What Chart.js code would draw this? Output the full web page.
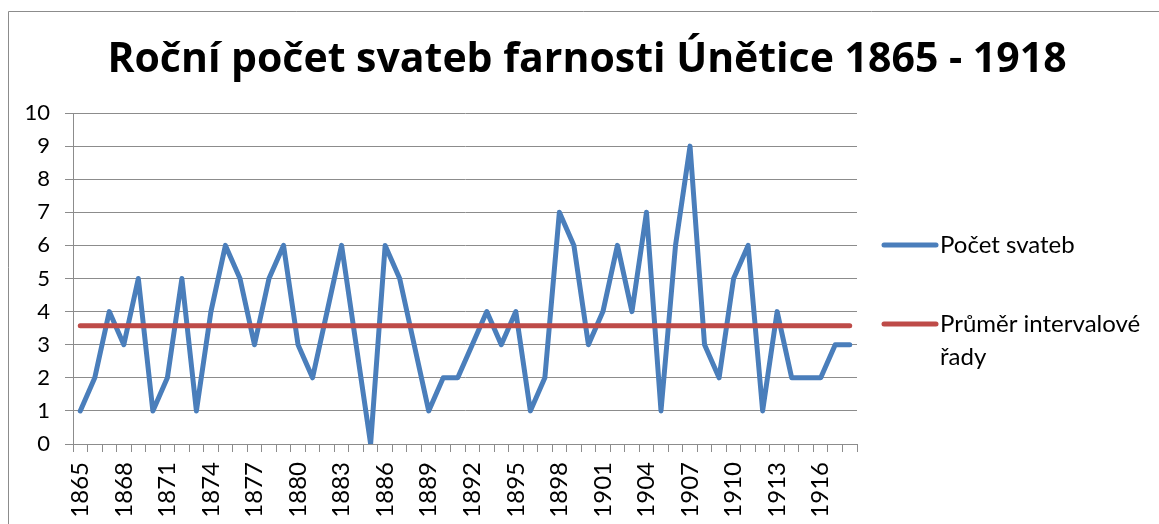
<!DOCTYPE html>
<html>
<head>
<meta charset="utf-8">
<title>Roční počet svateb</title>
<script src="https://cdn.jsdelivr.net/npm/chart.js@4.4.1/dist/chart.umd.min.js"></script>
<style>
  html, body { margin: 0; padding: 0; background: #ffffff; }
  #obal { width: 1159px; height: 524px; }
</style>
</head>
<body>
<div id="obal"><canvas id="svatbyChart" width="1159" height="524"></canvas></div>
<script>
// Roky (kategorie osy x)
const roky = [
  '1865','1866','1867','1868','1869','1870','1871','1872','1873','1874',
  '1875','1876','1877','1878','1879','1880','1881','1882','1883','1884',
  '1885','1886','1887','1888','1889','1890','1891','1892','1893','1894',
  '1895','1896','1897','1898','1899','1900','1901','1902','1903','1904',
  '1905','1906','1907','1908','1909','1910','1911','1912','1913','1914',
  '1915','1916','1917','1918'
];

// Počet svateb v jednotlivých letech
const pocetSvateb = [
  1, 2, 4, 3, 5, 1, 2, 5, 1, 4,
  6, 5, 3, 5, 6, 3, 2, 4, 6, 3,
  0, 6, 5, 3, 1, 2, 2, 3, 4, 3,
  4, 1, 2, 7, 6, 3, 4, 6, 4, 7,
  1, 6, 9, 3, 2, 5, 6, 1, 4, 2,
  2, 2, 3, 3
];

// Průměr intervalové řady (konstantní hodnota pro všechny roky)
const prumer = 3.57;
const prumerRady = roky.map(() => prumer);

// Popisky
const nazevGrafu = 'Roční počet svateb farnosti Únětice 1865 - 1918';
const popisky = ['Počet svateb', ['Průměr intervalové', 'řady']];

const PISMO = 'Lato, "Open Sans", "Liberation Sans", sans-serif';
const PISMO_NADPIS = '"Open Sans", Lato, "Liberation Sans", sans-serif';
const MODRA = '#4a7ebb';
const CERVENA = '#be4b48';
const SEDA = '#8c8c8c';

// Rámeček, nadpis a legenda kreslené vlastním pluginem
const vlastniKresba = {
  id: 'vlastniKresba',
  beforeDraw(chart) {
    const ctx = chart.ctx;
    ctx.save();
    ctx.fillStyle = '#ffffff';
    ctx.fillRect(0, 0, chart.width, chart.height);
    ctx.strokeStyle = SEDA;
    ctx.lineWidth = 1;
    ctx.beginPath();
    ctx.moveTo(8.5, chart.height);
    ctx.lineTo(8.5, 11.5);
    ctx.lineTo(chart.width, 11.5);
    ctx.stroke();
    ctx.restore();
  },
  afterDraw(chart) {
    const ctx = chart.ctx;
    ctx.save();
    // nadpis - velikost písma tak, aby šířka odpovídala cca 949 px
    let velikost = 36;
    ctx.font = 'bold ' + velikost + 'px ' + PISMO_NADPIS;
    const sirka = ctx.measureText(nazevGrafu).width;
    velikost = Math.round(velikost * 949 / sirka);
    ctx.font = 'bold ' + velikost + 'px ' + PISMO_NADPIS;
    ctx.fillStyle = '#000000';
    ctx.textAlign = 'center';
    ctx.textBaseline = 'alphabetic';
    ctx.fillText(nazevGrafu, 587, 72);

    // legenda
    const polozky = [
      { barva: chart.data.datasets[0].borderColor, text: popisky[0], y: 245 },
      { barva: chart.data.datasets[1].borderColor, text: popisky[1], y: 324 }
    ];
    ctx.font = '24px ' + PISMO;
    ctx.textAlign = 'left';
    ctx.textBaseline = 'middle';
    polozky.forEach(p => {
      ctx.strokeStyle = p.barva;
      ctx.lineWidth = 5;
      ctx.lineCap = 'round';
      ctx.beginPath();
      ctx.moveTo(884, p.y);
      ctx.lineTo(936, p.y);
      ctx.stroke();
      const radky = Array.isArray(p.text) ? p.text : [p.text];
      radky.forEach((r, i) => {
        ctx.fillStyle = '#000000';
        ctx.fillText(r, 940, p.y + i * 33);
      });
    });
    ctx.restore();
  }
};

const ctx = document.getElementById('svatbyChart').getContext('2d');
const svatbyChart = new Chart(ctx, {
  type: 'line',
  data: {
    labels: roky,
    datasets: [{
      label: 'Počet svateb',
      data: pocetSvateb,
      borderColor: MODRA,
      backgroundColor: MODRA,
      borderWidth: 5,
      pointRadius: 0,
      tension: 0,
      borderJoinStyle: 'round',
      borderCapStyle: 'round',
      order: 2
    },
    {
      label: 'Průměr intervalové řady',
      data: prumerRady,
      borderColor: CERVENA,
      backgroundColor: CERVENA,
      borderWidth: 5,
      pointRadius: 0,
      borderCapStyle: 'round',
      order: 1
    }]
  },
  options: {
    responsive: false,
    animation: false,
    events: [],
    layout: {
      padding: { left: 0, right: 302, top: 113, bottom: 0 }
    },
    plugins: {
      legend: { display: false },
      title: { display: false },
      tooltip: { enabled: false }
    },
    scales: {
      x: {
        type: 'category',
        offset: true,
        grid: {
          offset: true,
          drawOnChartArea: false,
          drawTicks: true,
          tickLength: 8,
          color: SEDA
        },
        border: { display: true, color: SEDA, width: 1 },
        ticks: {
          autoSkip: false,
          minRotation: 90,
          maxRotation: 90,
          padding: 10,
          color: '#000000',
          font: { family: PISMO, size: 24 },
          callback: function(value, index) {
            // popisek jen každý třetí rok
            return index % 3 === 0 ? this.getLabelForValue(value) : '';
          }
        },
        afterFit: (scale) => { scale.height = 80; }
      },
      y: {
        min: 0,
        max: 10,
        grid: {
          color: SEDA,
          lineWidth: 1,
          drawTicks: true,
          tickLength: 8
        },
        border: { display: true, color: SEDA, width: 1 },
        ticks: {
          stepSize: 1,
          padding: 15,
          color: '#000000',
          font: { family: PISMO, size: 22 }
        },
        afterFit: (scale) => { scale.width = 73; }
      }
    }
  },
  plugins: [vlastniKresba]
});
</script>
</body>
</html>
